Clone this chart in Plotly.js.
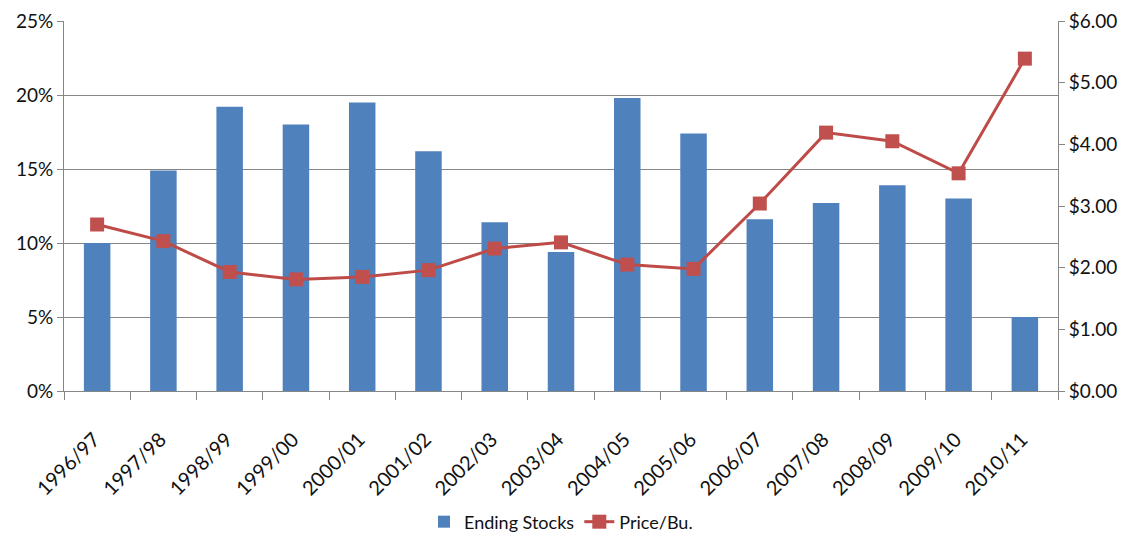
<!DOCTYPE html>
<html>
<head>
<meta charset="utf-8">
<script src="https://cdn.plot.ly/plotly-3.0.1.min.js"></script>
<style>html,body{margin:0;padding:0;background:#fff;}#chart{width:1129px;height:538px;}</style>
</head>
<body>
<div id="chart"></div>
<script>
const years = ["1996/97","1997/98","1998/99","1999/00","2000/01","2001/02","2002/03","2003/04","2004/05","2005/06","2006/07","2007/08","2008/09","2009/10","2010/11"];
const endingStocks = [0.100,0.149,0.192,0.180,0.195,0.162,0.114,0.094,0.198,0.174,0.116,0.127,0.139,0.130,0.050];
const priceBu = [2.70,2.43,1.93,1.81,1.85,1.96,2.31,2.41,2.05,1.98,3.04,4.19,4.05,3.53,5.39];

const fontFam = 'Lato,"Liberation Sans Narrow",sans-serif';
const data = [
  {type:'bar', x:years, y:endingStocks, name:'Ending Stocks', marker:{color:'#4F81BD'}, yaxis:'y'},
  {type:'scatter', mode:'lines+markers', x:years, y:priceBu, name:'Price/Bu.', yaxis:'y2',
   line:{color:'#BE4B48', width:3}, marker:{symbol:'square', size:14, color:'#C0504D'}}
];
const layout = {
  width:1129, height:538,
  margin:{l:64, r:71, t:21, b:147, autoexpand:false},
  paper_bgcolor:'#fff', plot_bgcolor:'#fff',
  font:{family:fontFam, size:19, color:'#111'},
  bargap:0.6,
  showlegend:true,
  legend:{orientation:'h', x:0.5, xanchor:'center', y:-0.354, yanchor:'middle', font:{size:18}},
  xaxis:{type:'category', range:[-0.5, years.length-0.5], tickangle:-45, tickson:'boundaries', ticks:'outside', ticklen:8, tickcolor:'#868686',
         ticklabelshift:-3, ticklabelstandoff:28, tickfont:{size:20},
         showline:true, linecolor:'#868686', linewidth:1, showgrid:false, automargin:false},
  yaxis:{range:[0,0.25], dtick:0.05, tickformat:'.0%', showgrid:true, gridcolor:'#868686', gridwidth:1, automargin:false,
         showline:true, linecolor:'#868686', ticks:'outside', ticklen:6, tickcolor:'#868686', zeroline:false},
  yaxis2:{range:[0,6], dtick:1, tickformat:'$.2f', overlaying:'y', side:'right', showgrid:false, automargin:false,
          showline:true, linecolor:'#868686', ticks:'outside', ticklen:6, tickcolor:'#868686', zeroline:false}
};
Plotly.newPlot('chart', data, layout, {displayModeBar:false, staticPlot:true});
</script>
</body>
</html>
